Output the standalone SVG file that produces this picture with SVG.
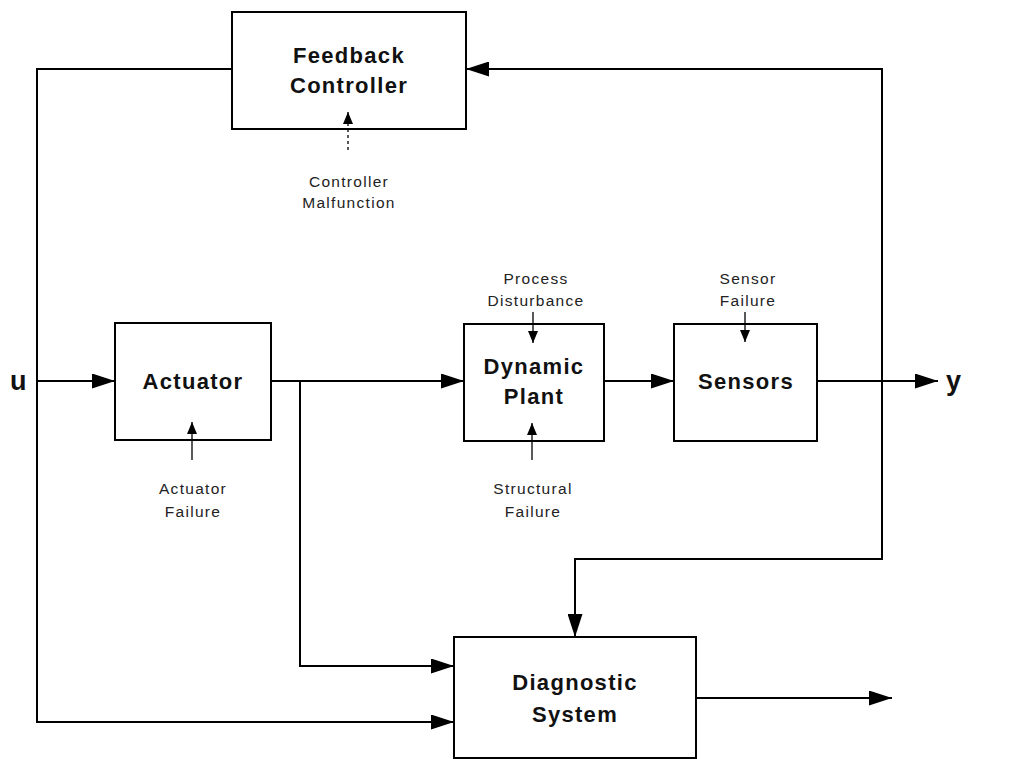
<svg xmlns="http://www.w3.org/2000/svg" width="1027" height="759" viewBox="0 0 1027 759">
<style>
.box{fill:none;stroke:#000;stroke-width:2}
.ln{fill:none;stroke:#000;stroke-width:2}
.sl{fill:none;stroke:#000;stroke-width:1.3}
.title{font-family:"Liberation Sans",Arial,sans-serif;font-weight:bold;font-size:22px;letter-spacing:1.3px;text-anchor:middle;fill:#111}
.lab{font-family:"Liberation Sans",Arial,sans-serif;font-size:15.5px;letter-spacing:1.3px;text-anchor:middle;fill:#222}
.io{font-family:"Liberation Sans",Arial,sans-serif;font-weight:bold;font-size:27px;fill:#111}
</style>
<defs>
<marker id="big" markerUnits="userSpaceOnUse" markerWidth="23" markerHeight="15" refX="23" refY="7.5" orient="auto">
<path d="M0,0 L23,7.5 L0,15 Z" fill="#000"/>
</marker>
<marker id="small" markerUnits="userSpaceOnUse" markerWidth="12" markerHeight="10" refX="12" refY="5" orient="auto">
<path d="M0,0 L12,5 L0,10 Z" fill="#000"/>
</marker>
</defs>
<g id="connectors">
<polyline class="ln" points="232,69 37,69 37,722 454,722" marker-end="url(#big)"/>
<line class="ln" x1="37" y1="381" x2="115" y2="381" marker-end="url(#big)"/>
<line class="ln" x1="271" y1="381" x2="464" y2="381" marker-end="url(#big)"/>
<polyline class="ln" points="300,381 300,666 454,666" marker-end="url(#big)"/>
<line class="ln" x1="604" y1="381" x2="674" y2="381" marker-end="url(#big)"/>
<line class="ln" x1="817" y1="381" x2="938" y2="381" marker-end="url(#big)"/>
<polyline class="ln" points="882,381 882,69 466,69" marker-end="url(#big)"/>
<polyline class="ln" points="882,381 882,559 575,559 575,637" marker-end="url(#big)"/>
<line class="ln" x1="696" y1="698" x2="892" y2="698" marker-end="url(#big)"/>
<line class="sl" x1="348" y1="150" x2="348" y2="112" stroke-dasharray="3,3" marker-end="url(#small)"/>
<line class="sl" x1="192" y1="460" x2="192" y2="422" marker-end="url(#small)"/>
<line class="sl" x1="533" y1="312" x2="533" y2="343" marker-end="url(#small)"/>
<line class="sl" x1="532" y1="460" x2="532" y2="423" marker-end="url(#small)"/>
<line class="sl" x1="745" y1="312" x2="745" y2="342" marker-end="url(#small)"/>
</g>
<g id="feedback-controller">
<rect class="box" x="232" y="12" width="234" height="117"/>
<text class="title" x="349" y="63">Feedback</text>
<text class="title" x="349" y="93">Controller</text>
</g>
<g id="actuator">
<rect class="box" x="115" y="323" width="156" height="117"/>
<text class="title" x="193" y="389">Actuator</text>
</g>
<g id="dynamic-plant">
<rect class="box" x="464" y="324" width="140" height="117"/>
<text class="title" x="534" y="374">Dynamic</text>
<text class="title" x="534" y="404">Plant</text>
</g>
<g id="sensors">
<rect class="box" x="674" y="324" width="143" height="117"/>
<text class="title" x="746" y="389">Sensors</text>
</g>
<g id="diagnostic-system">
<rect class="box" x="454" y="637" width="242" height="121"/>
<text class="title" x="575" y="690">Diagnostic</text>
<text class="title" x="575" y="722">System</text>
</g>
<g id="labels">
<text class="lab" x="349" y="187">Controller</text>
<text class="lab" x="349" y="208">Malfunction</text>
<text class="lab" x="193" y="494">Actuator</text>
<text class="lab" x="193" y="517">Failure</text>
<text class="lab" x="536" y="284">Process</text>
<text class="lab" x="536" y="306">Disturbance</text>
<text class="lab" x="533" y="494">Structural</text>
<text class="lab" x="533" y="517">Failure</text>
<text class="lab" x="748" y="284">Sensor</text>
<text class="lab" x="748" y="306">Failure</text>
<text class="io" x="10" y="390">u</text>
<text class="io" x="946" y="390">y</text>
</g>
</svg>
